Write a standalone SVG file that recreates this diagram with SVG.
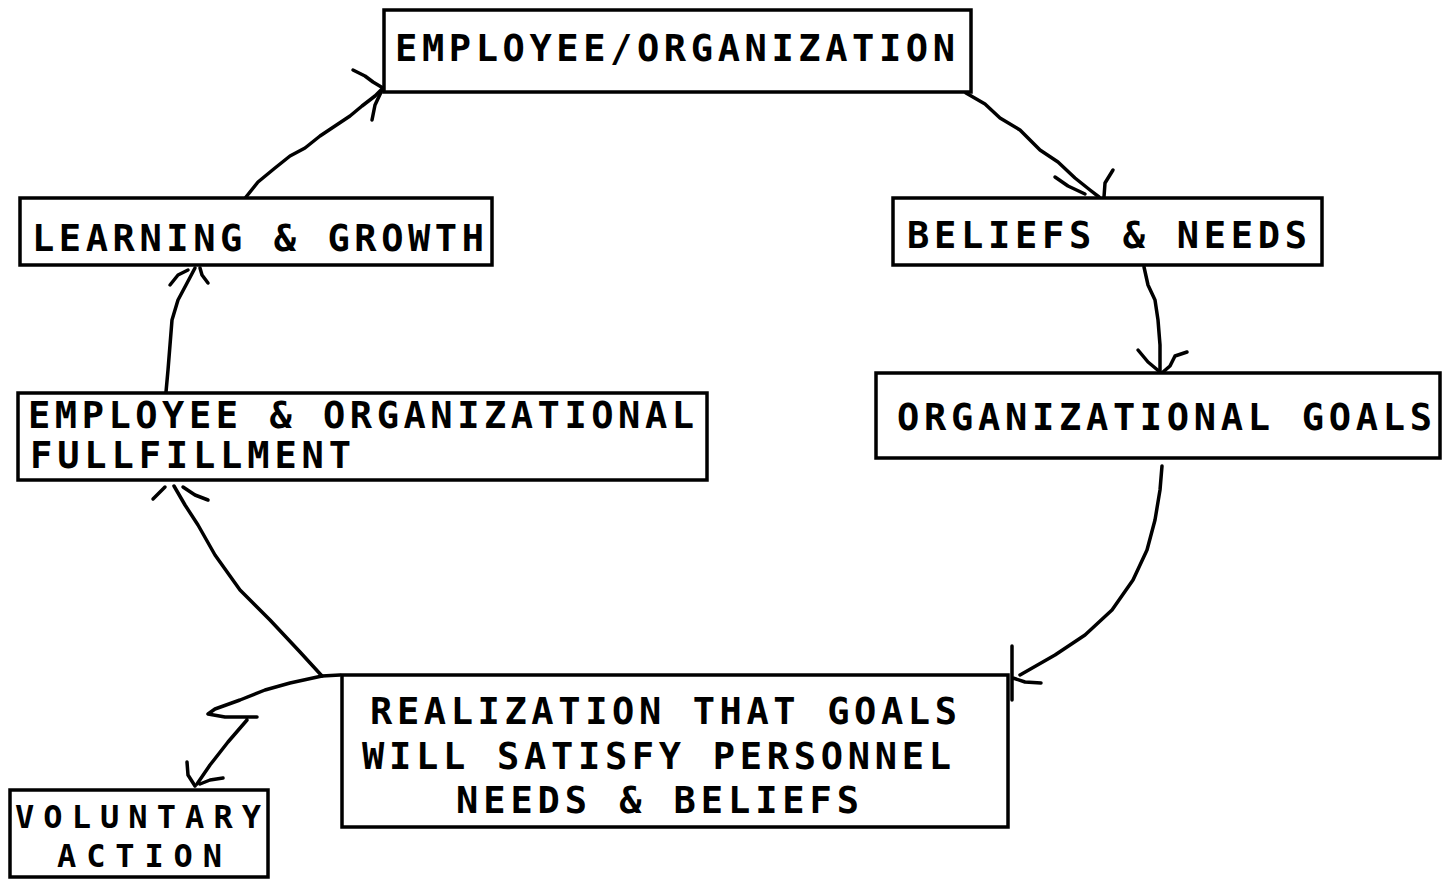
<svg xmlns="http://www.w3.org/2000/svg" width="1449" height="879" viewBox="0 0 1449 879">
<style>
.box{fill:#fff;stroke:#000;stroke-width:3.5}
.t{font-family:"DejaVu Sans Mono","Liberation Mono",monospace;font-weight:bold;font-size:37px;fill:#000}
.s{font-size:32px}
.c{fill:none;stroke:#000;stroke-width:3.5;stroke-linecap:round;stroke-linejoin:round}
</style>
<rect width="1449" height="879" fill="#fff"/>
<g id="connectors">
<path class="c" d="M966,93 L985,104 L1000,118 L1020,130 L1040,150 L1058,162 L1075,178 L1090,190 L1099,197"/>
<path class="c" d="M1055,177 L1068,186 L1085,194 M1113,170 L1105,183 L1104,197"/>
<path class="c" d="M1144,267 L1148,285 L1155,300 L1158,320 L1160,345 L1160,372"/>
<path class="c" d="M1138,350 L1148,362 L1160,372 M1187,352 L1175,356 L1170,366 L1163,372"/>
<path class="c" d="M1162,466 L1160,490 L1155,520 L1147,550 L1133,580 L1112,610 L1085,635 L1055,655 L1020,675"/>
<path class="c" d="M1012,646 L1012,700 M1013,678 L1025,682 L1041,683"/>
<path class="c" d="M340,675 L322,676 L300,652 L270,620 L240,590 L215,555 L198,525 L185,505 L174,486"/>
<path class="c" d="M153,499 L165,487 M208,500 L195,495 L183,487"/>
<path class="c" d="M322,676 L290,683 L265,690 L240,700 L215,709 L208,714 L225,717 L257,717 M247,720 L228,742 L210,765 L197,784"/>
<path class="c" d="M187,762 L188,775 L195,786 M223,778 L210,780 L200,784"/>
<path class="c" d="M166,392 L168,370 L170,345 L172,320 L178,300 L186,285 L195,268"/>
<path class="c" d="M170,285 L178,275 L188,270 M208,283 L202,275 L200,268"/>
<path class="c" d="M246,197 L258,182 L275,168 L290,156 L305,148 L320,136 L335,126 L350,116 L362,106 L375,96 L383,88"/>
<path class="c" d="M353,70 L365,76 L373,82 L383,88 M372,120 L375,105 L383,88"/>
</g>
<g id="employee-organization">
<rect class="box" x="384" y="10" width="587" height="82"/>
<text class="t" x="395" y="61" textLength="560" lengthAdjust="spacing">EMPLOYEE/ORGANIZATION</text>
</g>
<g id="beliefs-needs">
<rect class="box" x="893" y="198" width="429" height="67"/>
<text class="t" x="907" y="248" textLength="400" lengthAdjust="spacing">BELIEFS &amp; NEEDS</text>
</g>
<g id="organizational-goals">
<rect class="box" x="876" y="373" width="564" height="85"/>
<text class="t" x="897" y="430" textLength="535" lengthAdjust="spacing">ORGANIZATIONAL GOALS</text>
</g>
<g id="realization">
<rect class="box" x="342" y="675" width="666" height="152"/>
<text class="t" x="370" y="724" textLength="587" lengthAdjust="spacing">REALIZATION THAT GOALS</text>
<text class="t" x="362" y="769" textLength="589" lengthAdjust="spacing">WILL SATISFY PERSONNEL</text>
<text class="t" x="456" y="813" textLength="403" lengthAdjust="spacing">NEEDS &amp; BELIEFS</text>
</g>
<g id="voluntary-action">
<rect class="box" x="10" y="790" width="258" height="87"/>
<text class="t s" x="15" y="828" textLength="246" lengthAdjust="spacing">VOLUNTARY</text>
<text class="t s" x="57" y="867" textLength="165" lengthAdjust="spacing">ACTION</text>
</g>
<g id="fulfillment">
<rect class="box" x="18" y="393" width="689" height="87"/>
<text class="t" x="28" y="428" textLength="666" lengthAdjust="spacing">EMPLOYEE &amp; ORGANIZATIONAL</text>
<text class="t" x="30" y="468" textLength="321" lengthAdjust="spacing">FULLFILLMENT</text>
</g>
<g id="learning-growth">
<rect class="box" x="20" y="198" width="472" height="67"/>
<text class="t" x="32" y="251" textLength="452" lengthAdjust="spacing">LEARNING &amp; GROWTH</text>
</g>
</svg>
